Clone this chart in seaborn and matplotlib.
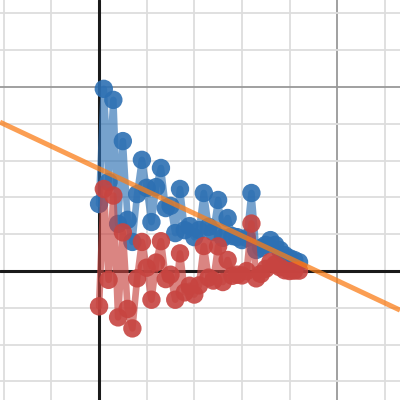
import numpy as np
import pandas as pd
import matplotlib
matplotlib.use('Agg')
import matplotlib.pyplot as plt
import seaborn as sns

# sample positions (x) and the two series
x_vals = [round(i * 0.1, 1) for i in range(43)]
blue_y = [1.82, 4.95, 2.42, 4.65, 1.28, 3.53, 1.39, 0.79, 2.09, 3.02,
          2.26, 1.33, 2.28, 2.80, 1.71, 1.77, 1.03, 2.23, 1.11, 1.22,
          0.92, 1.11, 2.12, 1.20, 1.06, 1.93, 0.90, 1.44, 0.95, 0.92,
          0.84, 0.90, 2.12, 0.57, 0.63, 0.71, 0.84, 0.71, 0.57, 0.43,
          0.35, 0.30, 0.24]
red_y = [-0.96, 2.23, -0.24, 2.05, -1.26, 1.05, -1.03, -1.56, -0.20, 0.79,
         0.09, -0.78, 0.23, 0.81, -0.22, -0.10, -0.78, 0.48, -0.58, -0.40,
         -0.64, -0.39, 0.68, -0.18, -0.26, 0.67, -0.30, 0.30, -0.13, -0.10,
         -0.12, 0.00, 1.29, -0.20, -0.08, 0.06, 0.25, 0.18, 0.10, 0.02,
         0.00, 0.01, 0.01]
line_intercept = 2.78
line_slope = -0.608

df = pd.DataFrame({'x': x_vals, 'blue': blue_y, 'red': red_y})

sns.set_style('white')
fig = plt.figure(figsize=(4, 4), dpi=100)
ax = fig.add_axes([0, 0, 1, 1])
xmin, xmax = -2.08, 6.32
ymin, ymax = -3.505, 7.364
ax.set_xlim(xmin, xmax)
ax.set_ylim(ymin, ymax)

# grid like a graphing calculator
for gx in range(-2, 7):
    if gx == 0:
        continue
    c = '#999999' if gx % 5 == 0 else '#dddddd'
    ax.axvline(gx, color=c, lw=1.3, zorder=0)
for gy in range(-3, 8):
    if gy == 0:
        continue
    c = '#999999' if gy % 5 == 0 else '#dddddd'
    ax.axhline(gy, color=c, lw=1.3, zorder=0)
ax.axvline(0, color='#1a1a1a', lw=2.2, zorder=1)
ax.axhline(0, color='#1a1a1a', lw=2.2, zorder=1)

blue = '#2d70b3'
red = '#c74440'
orange = '#fa7e19'

for col, c, z in [('blue', blue, 2), ('red', red, 4)]:
    sns.lineplot(data=df, x='x', y=col, sort=False, color=c, lw=4.8, alpha=0.65,
                 ax=ax, zorder=z, solid_joinstyle='round', solid_capstyle='round')
    sns.scatterplot(data=df, x='x', y=col, color=c, s=175, alpha=0.9,
                    edgecolor='none', ax=ax, zorder=z + 1)

lx = np.array([xmin, xmax])
ax.plot(lx, line_intercept + line_slope * lx, color=orange, lw=3.6, alpha=0.75,
        zorder=6, solid_capstyle='butt')

ax.set_xlabel('')
ax.set_ylabel('')
ax.set_xticks([])
ax.set_yticks([])
for s in ax.spines.values():
    s.set_visible(False)

fig.savefig('out.png', dpi=100)
